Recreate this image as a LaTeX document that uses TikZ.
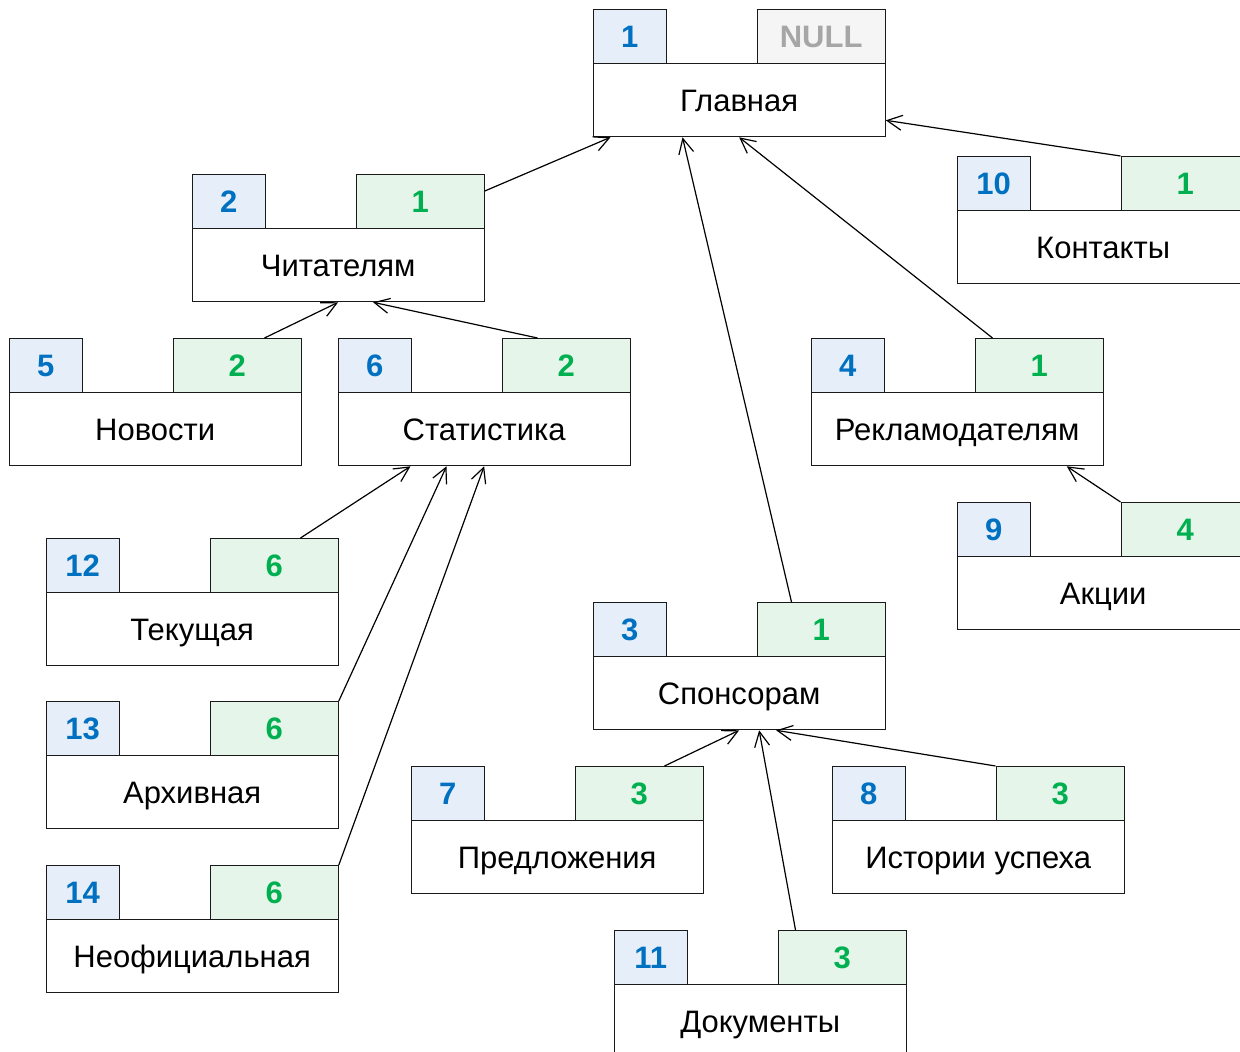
\documentclass[tikz,border=0pt]{standalone}
\usepackage{fontspec}
\setmainfont{Liberation Sans}
\usetikzlibrary{arrows.meta}
\definecolor{idfill}{HTML}{E6EFF9}
\definecolor{idtext}{HTML}{0070C0}
\definecolor{pfill}{HTML}{E6F5EA}
\definecolor{ptext}{HTML}{00B050}
\definecolor{nfill}{HTML}{F5F5F5}
\definecolor{ntext}{HTML}{A6A6A6}
\definecolor{edge}{HTML}{1A1A1A}
\tikzset{
  anybox/.style={draw=edge, line width=1.3pt, inner sep=0pt, anchor=north west,
    font=\fontsize{31}{37}\selectfont, text height=22pt, text depth=0pt},
  idbox/.style={anybox, fill=idfill, text=idtext, minimum width=73pt, minimum height=54pt, font=\fontsize{31}{37}\selectfont\bfseries},
  parbox/.style={anybox, fill=pfill, text=ptext, minimum width=128pt, minimum height=54pt, font=\fontsize{31}{37}\selectfont\bfseries},
  nullbox/.style={parbox, fill=nfill, text=ntext},
  mainbox/.style={anybox, fill=white, text=black, minimum width=292pt, minimum height=73pt},
  link/.style={draw=black, line width=1.2pt, -{Straight Barb[length=15pt,width=15pt,line width=1.2pt]}}
}
% #1 name, #2 X, #3 Y, #4 id, #5 parent, #6 label, #7 parent style
\newcommand\recbox[7]{%
  \node[mainbox] (m#1) at (#2, #3+54) {#6};
  \node[idbox] (i#1) at (#2, #3) {#4};
  \node[#7] (p#1) at (#2+164, #3) {#5};
}
\begin{document}
\begin{tikzpicture}[x=1pt,y=-1pt]
\useasboundingbox (0,0) rectangle (1240,1052);
\clip (0,0) rectangle (1240,1052);
\recbox{1}{592.5}{9}{1}{NULL}{Главная}{nullbox}
\recbox{2}{191.5}{174}{2}{1}{Читателям}{parbox}
\recbox{10}{956.5}{156}{10}{1}{Контакты}{parbox}
\recbox{5}{8.5}{338}{5}{2}{Новости}{parbox}
\recbox{6}{337.5}{338}{6}{2}{Статистика}{parbox}
\recbox{4}{810.5}{338}{4}{1}{Рекламодателям}{parbox}
\recbox{9}{956.5}{502}{9}{4}{Акции}{parbox}
\recbox{12}{45.5}{538}{12}{6}{Текущая}{parbox}
\recbox{3}{592.5}{602}{3}{1}{Спонсорам}{parbox}
\recbox{13}{45.5}{701}{13}{6}{Архивная}{parbox}
\recbox{7}{410.5}{766}{7}{3}{Предложения}{parbox}
\recbox{8}{831.5}{766}{8}{3}{Истории успеха}{parbox}
\recbox{14}{45.5}{865}{14}{6}{Неофициальная}{parbox}
\recbox{11}{613.5}{930}{11}{3}{Документы}{parbox}

\draw[link] ([yshift=-17pt]p2.north east) -- ([xshift=18pt]m1.south west);
\draw[link] (p10.north west) -- ([yshift=17pt]m1.south east);
\draw[link] ([xshift=18pt]p4.north west) -- (m1.south);
\draw[link] ([xshift=35pt]p3.north west) -- ([xshift=90pt]m1.south west);
\draw[link] ([xshift=92pt]p5.north west) -- (m2.south);
\draw[link] ([xshift=36pt]p6.north west) -- ([xshift=35pt]m2.south);
\draw[link] (p9.north west) -- ([xshift=-37pt]m4.south east);
\draw[link] ([xshift=91pt]p12.north west) -- ([xshift=73pt]m6.south west);
\draw[link] (p13.north east) -- ([xshift=109pt]m6.south west);
\draw[link] (p14.north east) -- (m6.south);
\draw[link] ([xshift=90pt]p7.north west) -- (m3.south);
\draw[link] (p8.north west) -- ([xshift=37pt]m3.south);
\draw[link] ([xshift=18pt]p11.north west) -- ([xshift=20pt]m3.south);
\end{tikzpicture}
\end{document}
